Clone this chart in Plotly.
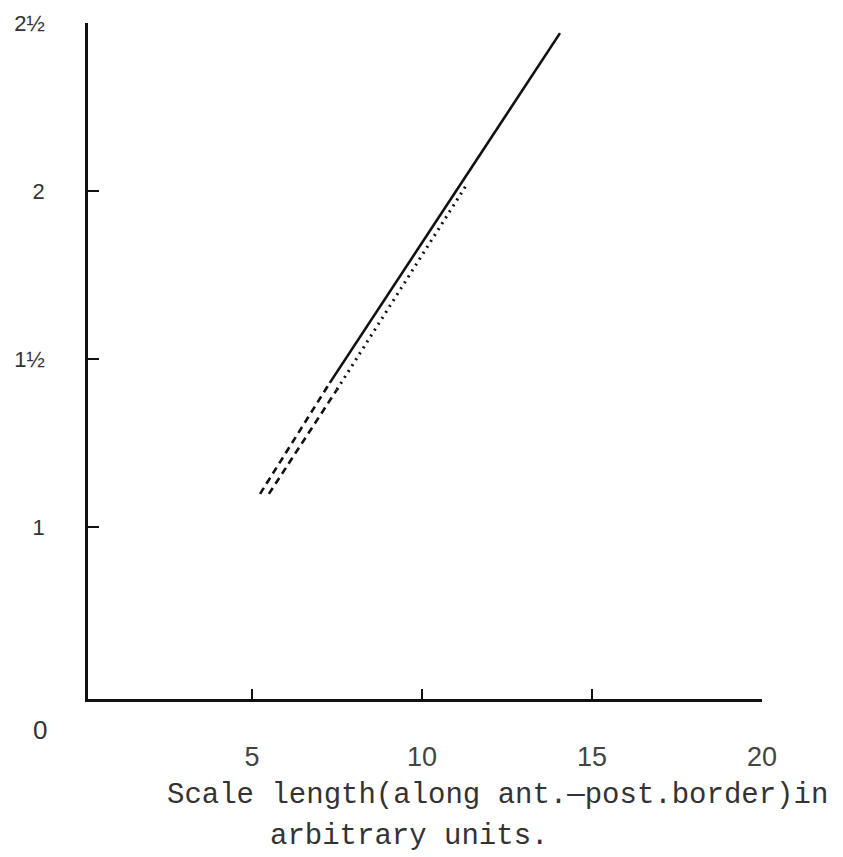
import plotly.graph_objects as go

# Data
solid_x = [7.29, 14.06]
solid_y = [1.43, 2.47]
dash1_x = [5.24, 7.29]
dash1_y = [1.10, 1.43]
dash2_x = [5.50, 7.50]
dash2_y = [1.10, 1.41]
dot_x = [7.50, 11.32]
dot_y = [1.41, 2.02]

x_tickvals = [5, 10, 15, 20]
x_ticktext = ["5", "10", "15", "20"]
y_tickvals = [1, 1.5, 2, 2.5]
y_ticktext = ["1", "1½", "2", "2½"]

ink = "#111111"
fig = go.Figure()
fig.add_trace(go.Scatter(x=solid_x, y=solid_y, mode="lines",
                         line=dict(color=ink, width=2.6), showlegend=False))
fig.add_trace(go.Scatter(x=dash1_x, y=dash1_y, mode="lines",
                         line=dict(color=ink, width=2.6, dash="7px,5px"), showlegend=False))
fig.add_trace(go.Scatter(x=dash2_x, y=dash2_y, mode="lines",
                         line=dict(color=ink, width=2.6, dash="7px,5px"), showlegend=False))
fig.add_trace(go.Scatter(x=dot_x, y=dot_y, mode="lines",
                         line=dict(color=ink, width=3, dash="2px,5px"), showlegend=False))

# page body has an 8px margin, so the figure is drawn 8px in from the corner
W, H = 835, 849
L, T = 80, 15
R, B = W - 754, H - 691
fig.update_layout(
    width=W, height=H,
    margin=dict(l=L, r=R, t=T, b=B, autoexpand=False),
    paper_bgcolor="white", plot_bgcolor="white",
    xaxis=dict(range=[0.18, 20], showgrid=False, zeroline=False, automargin=False,
               showline=True, linecolor=ink, linewidth=2.5,
               ticks="inside", ticklen=10, tickwidth=2, tickcolor=ink,
               tickvals=x_tickvals, ticktext=x_ticktext,
               ticklabelstandoff=32, ticklabeloverflow="allow",
               tickfont=dict(family="Liberation Sans", size=27, color="#444444")),
    yaxis=dict(range=[0.49, 2.5], showgrid=False, zeroline=False, automargin=False,
               showline=True, linecolor=ink, linewidth=2.5,
               ticks="inside", ticklen=11, tickwidth=2, tickcolor=ink,
               tickvals=y_tickvals, ticktext=y_ticktext,
               ticklabelstandoff=36, ticklabeloverflow="allow",
               tickfont=dict(family="Liberation Sans", size=22, color="#333333")),
)

fig.add_annotation(text="0", xref="paper", yref="paper",
                   x=(40 - 88) / 674, y=(699 - 730) / 676,
                   xanchor="center", yanchor="middle", showarrow=False,
                   font=dict(family="Liberation Sans", size=26, color="#333333"))
fig.add_annotation(text="Scale length(along ant.\u2014post.border)in", xref="paper", yref="paper",
                   x=(165 - 88) / 674, y=(699 - 796) / 676,
                   xanchor="left", yanchor="middle", showarrow=False,
                   font=dict(family="Liberation Mono", size=29, color="#333333"))
fig.add_annotation(text="arbitrary units.", xref="paper", yref="paper",
                   x=(268 - 88) / 674, y=(699 - 836) / 676,
                   xanchor="left", yanchor="middle", showarrow=False,
                   font=dict(family="Liberation Mono", size=29, color="#333333"))

fig.write_html("out.html")
